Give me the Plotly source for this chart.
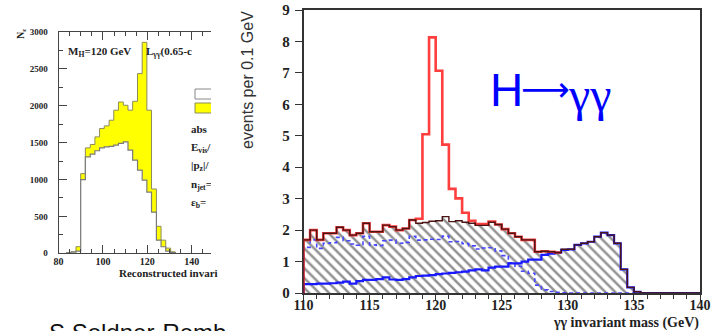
import plotly.graph_objects as go

W, H = 713, 331

# ---------------- left panel (cropped ROOT plot) ----------------
LEFT_EDGES = [83.6, 85.7, 87.9, 90.0, 92.1, 94.3, 96.4, 98.5, 100.6, 102.8, 104.9,
              107.0, 109.2, 111.3, 113.4, 115.6, 117.7, 119.8, 121.9, 124.1, 126.2,
              128.3, 130.5, 132.6]
LEFT_YELLOW = [5, 20, 90, 1080, 1429, 1475, 1578, 1691, 1727, 1804, 1940, 2051, 2007,
               1940, 2060, 2436, 2860, 1940, 872, 366, 178, 70, 20]
LEFT_WHITE = [5, 15, 30, 1000, 1307, 1344, 1390, 1430, 1443, 1450, 1466, 1490, 1510,
              1400, 1262, 1127, 992, 830, 558, 178, 89, 30, 10]
LEFT_YTICKS = [0, 500, 1000, 1500, 2000, 2500, 3000]
LEFT_XTICKS = [80, 100, 120, 140]
LEFT_NOTES = ["abs", "E<sub>vis</sub>/", "|p<sub>z</sub>|/", "n<sub>jet</sub>=", "ε<sub>b</sub>="]

# ---------------- right panel (H -> gamma gamma) ----------------
R_LO, R_W, R_N = 110.0, 0.5, 60
BKG_TOTAL = [1.69, 2.00, 1.69, 1.90, 1.90, 2.09, 2.00, 1.84, 1.90, 2.22,
             1.95, 1.95, 2.16, 2.11, 2.00, 2.05, 2.32, 2.22, 2.24, 2.28,
             2.30, 2.43, 2.27, 2.30, 2.25, 2.22, 2.15, 2.15, 2.25, 2.18,
             2.03, 1.90, 1.79, 1.69, 1.69, 1.31, 1.33, 1.31, 1.29, 1.39,
             1.39, 1.53, 1.58, 1.63, 1.79, 1.92, 1.84, 1.58, 0.75, 0.18,
             0.04, 0, 0, 0, 0, 0, 0, 0, 0, 0]
SIG_PLUS_BKG = [1.69, 2.00, 1.69, 1.90, 1.90, 2.09, 2.00, 1.84, 1.90, 2.22,
                1.95, 1.95, 2.16, 2.11, 2.00, 2.05, 2.32, 2.36, 5.05, 8.13,
                7.07, 4.72, 3.31, 3.01, 2.55, 2.30, 2.19, 2.19, 2.27, 2.18,
                2.03, 1.90, 1.79, 1.69, 1.69, 1.31, 1.33, 1.31, 1.29]
BKG_A = [0.28, 0.28, 0.30, 0.30, 0.31, 0.33, 0.36, 0.30, 0.38, 0.42,
         0.42, 0.44, 0.50, 0.43, 0.42, 0.44, 0.50, 0.54, 0.55, 0.57,
         0.60, 0.62, 0.64, 0.66, 0.68, 0.72, 0.75, 0.72, 0.81, 0.84,
         0.84, 0.94, 0.94, 1.00, 1.06, 1.06, 1.21, 1.25, 1.28, 1.37,
         1.39, 1.53, 1.58, 1.63, 1.79, 1.92, 1.84, 1.58, 0.75, 0.18,
         0.04, 0, 0, 0, 0, 0, 0, 0, 0, 0]
BKG_B = [1.45, 1.69, 1.42, 1.58, 1.60, 1.77, 1.66, 1.56, 1.52, 1.80,
         1.53, 1.51, 1.66, 1.68, 1.58, 1.61, 1.80, 1.68, 1.69, 1.71,
         1.70, 1.81, 1.63, 1.64, 1.57, 1.50, 1.40, 1.43, 1.44, 1.34,
         1.19, 0.96, 0.85, 0.69, 0.63, 0.25, 0.10, 0.05, 0.02, 0.01,
         0, 0, 0, 0, 0, 0, 0, 0, 0, 0,
         0, 0, 0, 0, 0, 0, 0, 0, 0, 0]

SERIF = "Liberation Serif"
SANS = "Liberation Sans"


def px_x(p):
    return p / W


def px_y(p):
    return 1 - p / H


def step_closed(edges, values):
    xs = [edges[0]] + list(edges[:len(values)]) + [edges[len(values)], edges[len(values)]]
    ys = [0] + list(values) + [values[-1], 0]
    return xs, ys


def step_open(edges, values):
    xs = [edges[0]] + list(edges[:len(values)]) + [edges[len(values)]]
    ys = [0] + list(values) + [values[-1]]
    return xs, ys


r_edges = [R_LO + R_W * i for i in range(R_N + 1)]

fig = go.Figure()

# left panel histograms
lx, ly = step_closed(LEFT_EDGES, LEFT_YELLOW)
fig.add_trace(go.Scatter(x=lx, y=ly, mode="lines", line=dict(shape="hv", color="#8c8c5a", width=1),
                         fill="tozeroy", fillcolor="#ffff00", xaxis="x", yaxis="y", hoverinfo="skip"))
lx, ly = step_closed(LEFT_EDGES, LEFT_WHITE)
fig.add_trace(go.Scatter(x=lx, y=ly, mode="lines", line=dict(shape="hv", color="#7a7a7a", width=1.2),
                         fill="tozeroy", fillcolor="#ffffff", xaxis="x", yaxis="y", hoverinfo="skip"))

# left panel texts (clipped by the plot area like the cropped original)
LPX = 2.22  # px per GeV on the left panel
LPY = 73.77 / 1000.0


def lx_data(p):
    return 80 + (p - 58.5) / LPX


def ly_data(p):
    return (253.3 - p) / LPY


txt_x = [lx_data(68), lx_data(146)]
txt_y = [ly_data(52), ly_data(52)]
txt = ["M<sub>H</sub>=120 GeV", "L<sub>γγ</sub>(0.65-c"]
note_py = [130, 148, 166, 185, 203]
for t, p in zip(LEFT_NOTES, note_py):
    txt_x.append(lx_data(191))
    txt_y.append(ly_data(p))
    txt.append(t)
fig.add_trace(go.Scatter(x=txt_x, y=txt_y, mode="text", text=txt, textposition="middle right",
                         textfont=dict(family=SERIF, size=11, color="#222", weight="bold"),
                         cliponaxis=True, xaxis="x", yaxis="y", hoverinfo="skip"))

# right panel
hx, hy = step_closed(r_edges, BKG_TOTAL)
fig.add_trace(go.Scatter(x=hx, y=hy, mode="lines", line=dict(shape="hv", width=0, color="rgba(0,0,0,0)"),
                         fill="tozeroy", fillcolor="rgba(0,0,0,0)",
                         fillpattern=dict(shape="\\", size=7, solidity=0.35, fgcolor="#222222",
                                          bgcolor="rgba(0,0,0,0)"),
                         xaxis="x2", yaxis="y2", hoverinfo="skip"))
bx, by = step_closed(r_edges, BKG_B)
fig.add_trace(go.Scatter(x=bx, y=by, mode="lines",
                         line=dict(shape="hv", width=1.6, color="#4848ff", dash="4px,3px"),
                         xaxis="x2", yaxis="y2", hoverinfo="skip"))
ax_, ay_ = step_closed(r_edges, BKG_A)
fig.add_trace(go.Scatter(x=ax_, y=ay_, mode="lines", line=dict(shape="hv", width=2.2, color="#1a1aff"),
                         xaxis="x2", yaxis="y2", hoverinfo="skip"))
sx, sy = step_open(r_edges, SIG_PLUS_BKG)
fig.add_trace(go.Scatter(x=sx, y=sy, mode="lines", line=dict(shape="hv", width=2.6, color="#ff2a2a"),
                         opacity=0.9, xaxis="x2", yaxis="y2", hoverinfo="skip"))
fig.add_trace(go.Scatter(x=hx, y=hy, mode="lines", line=dict(shape="hv", width=1.4, color="#4a1414"),
                         xaxis="x2", yaxis="y2", hoverinfo="skip"))

# legend boxes on left panel
shapes = [
    dict(type="rect", xref="x", yref="y", x0=lx_data(195), x1=lx_data(230),
         y0=ly_data(99), y1=ly_data(89), line=dict(color="#888", width=1), fillcolor="white"),
    dict(type="rect", xref="x", yref="y", x0=lx_data(195), x1=lx_data(230),
         y0=ly_data(113), y1=ly_data(103), line=dict(color="#8c8c5a", width=1), fillcolor="#ffff00"),
]


def note(text, x, y, xa, size, family, color="#222", weight="normal", angle=0, ya="middle"):
    return dict(text=text, x=px_x(x), y=px_y(y), xref="paper", yref="paper", showarrow=False,
                xanchor=xa, yanchor=ya, textangle=angle,
                font=dict(family=family, size=size, color=color, weight=weight))


annotations = [
    note("N<sub>ε</sub>", 21, 34, "center", 10, SERIF, weight="bold", angle=-90),
    note("Reconstructed invari", 117, 273, "left", 11, SERIF, weight="bold"),
    note("S.Soldner-Remb", 47, 317, "left", 24, SANS, color="#111", ya="top"),
    note("events per 0.1 GeV", 247, 80, "center", 16, SANS, color="#333", angle=-90),
    note("γγ invariant mass (GeV)", 701, 323, "right", 14, SERIF, weight="bold"),
    note("H", 488, 90, "left", 46, SANS, color="#0000ff"),
    note("⟶", 545, 89, "center", 34, "DejaVu Sans", color="#0000ff"),
    note("γγ", 566, 94, "left", 48, SERIF, color="#0000ff"),
]

fig.update_layout(
    width=W, height=H, margin=dict(l=0, r=0, t=0, b=0, autoexpand=False),
    paper_bgcolor="white", plot_bgcolor="white", showlegend=False,
    shapes=shapes, annotations=annotations,
    xaxis=dict(domain=[px_x(58.5), px_x(211)], range=[80, lx_data(211)], tickvals=LEFT_XTICKS,
               anchor="y", automargin=False,
               ticks="inside", ticklen=8, tickcolor="#444", showline=True, linecolor="#444", linewidth=1,
               mirror="ticks", showgrid=False, zeroline=False, ticklabelstandoff=-1,
               minor=dict(dtick=5, ticks="inside", ticklen=4, tickcolor="#444"),
               tickfont=dict(family=SERIF, size=10, color="#222", weight="bold")),
    yaxis=dict(domain=[px_y(253.3), px_y(32)], range=[0, 3000], tickvals=LEFT_YTICKS,
               anchor="x", automargin=False,
               ticks="inside", ticklen=8, tickcolor="#444", showline=True, linecolor="#444", linewidth=1,
               showgrid=False, zeroline=False, ticklabelstandoff=8,
               minor=dict(dtick=250, ticks="inside", ticklen=4, tickcolor="#444"),
               tickfont=dict(family=SERIF, size=9, color="#222", weight="bold")),
    xaxis2=dict(domain=[px_x(303.5), px_x(700)], range=[110, 140], dtick=5, tick0=110,
                anchor="y2", automargin=False,
                ticks="outside", ticklen=6, tickcolor="#333", tickwidth=1.2,
                showline=True, linecolor="#333", linewidth=1.5, mirror=True,
                showgrid=False, zeroline=False, layer="below traces", ticklabelstandoff=-8,
                minor=dict(dtick=1, ticks="outside", ticklen=4, tickcolor="#333"),
                tickfont=dict(family=SERIF, size=14, color="#222", weight="bold")),
    yaxis2=dict(domain=[px_y(293), px_y(10)], range=[0, 9], dtick=1, tick0=0,
                anchor="x2", automargin=False,
                ticks="outside", ticklen=7, tickcolor="#333", tickwidth=1.2,
                showline=True, linecolor="#333", linewidth=1.5, mirror=True,
                showgrid=False, zeroline=False, layer="below traces", ticklabelstandoff=2,
                tickfont=dict(family=SERIF, size=15, color="#222", weight="bold")),
)

fig.write_html("out.html", config={"displayModeBar": False},
               post_script="document.body.style.margin='0';document.body.style.padding='0';")
